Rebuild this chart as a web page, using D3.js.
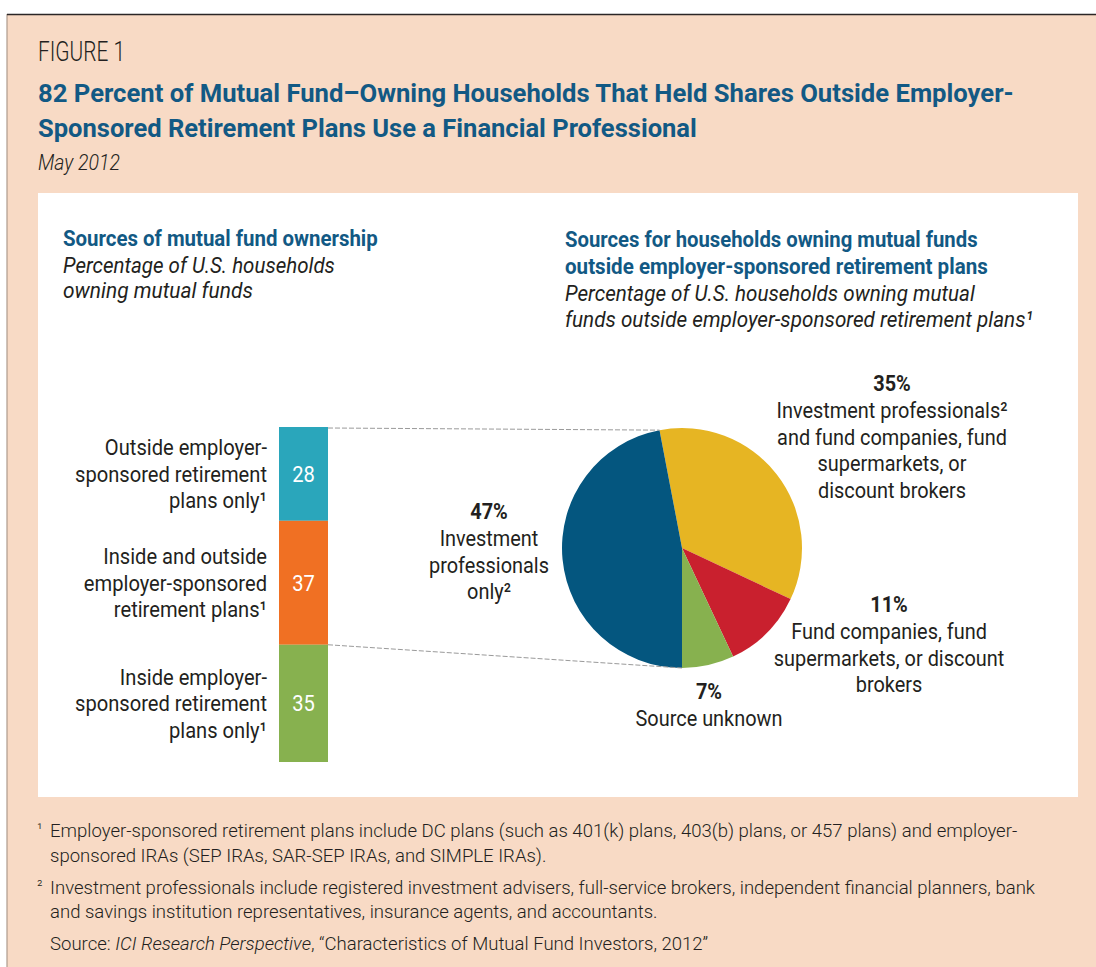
<!DOCTYPE html>
<html><head><meta charset="utf-8">
<script src="https://cdn.jsdelivr.net/npm/d3@7/dist/d3.min.js"></script>
<style>html,body{margin:0;padding:0;background:#fff;}svg{display:block;}</style>
</head><body>
<script>
// ---------- data ----------
const barCategories = ["Outside employer-sponsored retirement plans only", "Inside and outside employer-sponsored retirement plans", "Inside employer-sponsored retirement plans only"];
const barValues = [28, 37, 35];
const barLabelLines = [["Outside employer-", "sponsored retirement", "plans only¹"], ["Inside and outside", "employer-sponsored", "retirement plans¹"], ["Inside employer-", "sponsored retirement", "plans only¹"]];
const pieCategories = ["Investment professionals and fund companies, fund supermarkets, or discount brokers", "Fund companies, fund supermarkets, or discount brokers", "Source unknown", "Investment professionals only"];
const pieValues = [35, 11, 7, 47];
const pieLabelLines = [["Investment professionals²", "and fund companies, fund", "supermarkets, or", "discount brokers"], ["Fund companies, fund", "supermarkets, or discount", "brokers"], ["Source unknown"], ["Investment", "professionals", "only²"]];
const footnotes = [
  ["¹", "Employer-sponsored retirement plans include DC plans (such as 401(k) plans, 403(b) plans, or 457 plans) and employer-", "sponsored IRAs (SEP IRAs, SAR-SEP IRAs, and SIMPLE IRAs)."],
  ["²", "Investment professionals include registered investment advisers, full-service brokers, independent financial planners, bank", "and savings institution representatives, insurance agents, and accountants."]
];

// ---------- setup ----------
const W = 1096, H = 967;
const FONT = "Roboto, 'Liberation Sans', Arial, sans-serif";
const INK = "#231f20", BLUE = "#125984";
const barColors = ["#2aa6bb", "#f07023", "#87b14f"];
const pieColors = ["#e6b523", "#c9202e", "#87b14f", "#04567f"];

const svg = d3.select("body").append("svg").attr("width", W).attr("height", H);
svg.append("rect").attr("width", W).attr("height", H).attr("fill", "#fff");
svg.append("rect").attr("x", 7).attr("y", 14).attr("width", W - 7).attr("height", H - 14).attr("fill", "#f8dac5");
svg.append("line").attr("x1", 7).attr("x2", 7).attr("y1", 14).attr("y2", H).attr("stroke", "#ad9a8c").attr("stroke-width", 1.2);
svg.append("line").attr("x1", 7).attr("x2", W).attr("y1", 14.5).attr("y2", 14.5).attr("stroke", "#2b2626").attr("stroke-width", 1.5);
svg.append("rect").attr("x", 38).attr("y", 193).attr("width", 1040).attr("height", 604).attr("fill", "#fff");

function measure(str, o) {
  const t = svg.append("text").attr("font-family", FONT).attr("font-size", o.size)
    .attr("font-weight", o.weight || 400).attr("font-style", o.style || "normal").text(str);
  const w = t.node().getComputedTextLength(); t.remove(); return w;
}
function txt(x, y, str, o) {
  const nat = measure(str, o);
  const s = o.width ? o.width / nat : (o.k || 1);
  const g = svg.append("g").attr("transform", `translate(${x},${y}) scale(${s},1)`);
  g.append("text").attr("font-family", FONT).attr("font-size", o.size)
    .attr("font-weight", o.weight || 400).attr("font-style", o.style || "normal")
    .attr("fill", o.fill || INK).attr("text-anchor", o.anchor || "start").text(str);
  return g;
}
function kFor(ref, w, o) { return w / measure(ref, o); }

// ---------- header ----------
txt(38, 61, "FIGURE 1", {size: 27, weight: 300, width: 87});
txt(38, 102, "82 Percent of Mutual Fund\u2013Owning Households That Held Shares Outside Employer-", {size: 26.5, weight: 700, fill: BLUE, width: 976});
txt(38, 137, "Sponsored Retirement Plans Use a Financial Professional", {size: 26.5, weight: 700, fill: BLUE, width: 659});
txt(38, 170, "May 2012", {size: 22, weight: 300, style: "italic", width: 82});

// ---------- sub headers ----------
txt(63, 246, "Sources of mutual fund ownership", {size: 22.5, weight: 700, fill: BLUE, width: 315});
txt(63, 273, "Percentage of U.S. households", {size: 22, style: "italic", width: 272});
txt(63, 298, "owning mutual funds", {size: 22, style: "italic", width: 190});
txt(565, 247, "Sources for households owning mutual funds", {size: 22.5, weight: 700, fill: BLUE, width: 413});
txt(565, 274, "outside employer-sponsored retirement plans", {size: 22.5, weight: 700, fill: BLUE, width: 423});
txt(565, 301, "Percentage of U.S. households owning mutual", {size: 22, style: "italic", width: 410});
txt(565, 327, "funds outside employer-sponsored retirement plans¹", {size: 22, style: "italic", width: 468});

// ---------- stacked bar ----------
const y = d3.scaleLinear().domain([0, 100]).range([427, 762]);
const barX = 279, barW = 49;
const cum = d3.cumsum(barValues);
const starts = barValues.map((v, i) => cum[i] - v);
svg.selectAll("rect.bar").data(barValues).join("rect").attr("class", "bar")
  .attr("x", barX).attr("width", barW)
  .attr("y", (d, i) => y(starts[i])).attr("height", d => y(d) - y(0))
  .attr("fill", (d, i) => barColors[i]);

const LS = 22.5;
const kLab = kFor("sponsored retirement", 192, {size: LS});
barValues.forEach((v, i) => {
  const mid = (y(starts[i]) + y(cum[i])) / 2;
  txt(barX + barW / 2, mid + 8, String(v), {size: LS, fill: "#fff", anchor: "middle", k: kLab});
  barLabelLines[i].forEach((line, j) => {
    txt(267, mid + 8 + (j - 1) * 26.5, line, {size: LS, anchor: "end", k: kLab});
  });
});

// ---------- pie ----------
const cx = 682, cy = 548, R = 120;
const start = -10.8 * Math.PI / 180;
const pie = d3.pie().sort(null).startAngle(start).endAngle(start + 2 * Math.PI);
const arcs = pie(pieValues);
const arc = d3.arc().innerRadius(0).outerRadius(R);
const pg = svg.append("g").attr("transform", `translate(${cx},${cy})`);
pg.selectAll("path").data(arcs).join("path").attr("d", arc).attr("fill", (d, i) => pieColors[i]);

// connector lines: bar 'outside' portion -> pie
const pt = a => [cx + R * Math.sin(a), cy - R * Math.cos(a)];
const outsideTotal = barValues[0] + barValues[1];
const pTop = pt(arcs[0].startAngle), pBot = pt(arcs[3].startAngle);
svg.append("line").attr("x1", barX + barW).attr("y1", y(0) + 1).attr("x2", pTop[0]).attr("y2", pTop[1])
  .attr("stroke", "#9a9a9a").attr("stroke-width", 1).attr("stroke-dasharray", "5,2");
svg.append("line").attr("x1", barX + barW).attr("y1", y(outsideTotal)).attr("x2", pBot[0]).attr("y2", pBot[1])
  .attr("stroke", "#9a9a9a").attr("stroke-width", 1).attr("stroke-dasharray", "5,2");

// pie labels
const kPie = kFor("Investment professionals²", 231, {size: LS});
const pieLabelPos = [[892, 391], [889, 612], [709, 699], [489, 519]];
arcs.forEach((a, i) => {
  const [lx, ly] = pieLabelPos[i];
  txt(lx, ly, pieValues[i] + "%", {size: LS, weight: 700, anchor: "middle", k: kPie});
  pieLabelLines[i].forEach((line, j) => {
    txt(lx, ly + 27 + j * 26.5, line, {size: LS, anchor: "middle", k: kPie});
  });
});

// ---------- footnotes ----------
const fnO = {size: 18.5, weight: 300};
const kFn = kFor(footnotes[0][1], 968, fnO);
const fnY = [[837, 862], [894, 918]];
footnotes.forEach((f, i) => {
  txt(37, fnY[i][0] - 3, f[0], {size: 15, weight: 300});
  txt(50, fnY[i][0], f[1], {size: 18.5, weight: 300, k: kFn});
  txt(50, fnY[i][1], f[2], {size: 18.5, weight: 300, k: kFn});
});
// source line
(function(){
  const g = svg.append("g").attr("transform", `translate(50,950) scale(${kFn},1)`);
  const t = g.append("text").attr("font-family", FONT).attr("font-size", 18.5).attr("font-weight", 300).attr("fill", INK);
  t.append("tspan").text("Source: ");
  t.append("tspan").attr("font-style", "italic").text("ICI Research Perspective");
  t.append("tspan").text(", \u201cCharacteristics of Mutual Fund Investors, 2012\u201d");
})();
</script>
</body></html>
